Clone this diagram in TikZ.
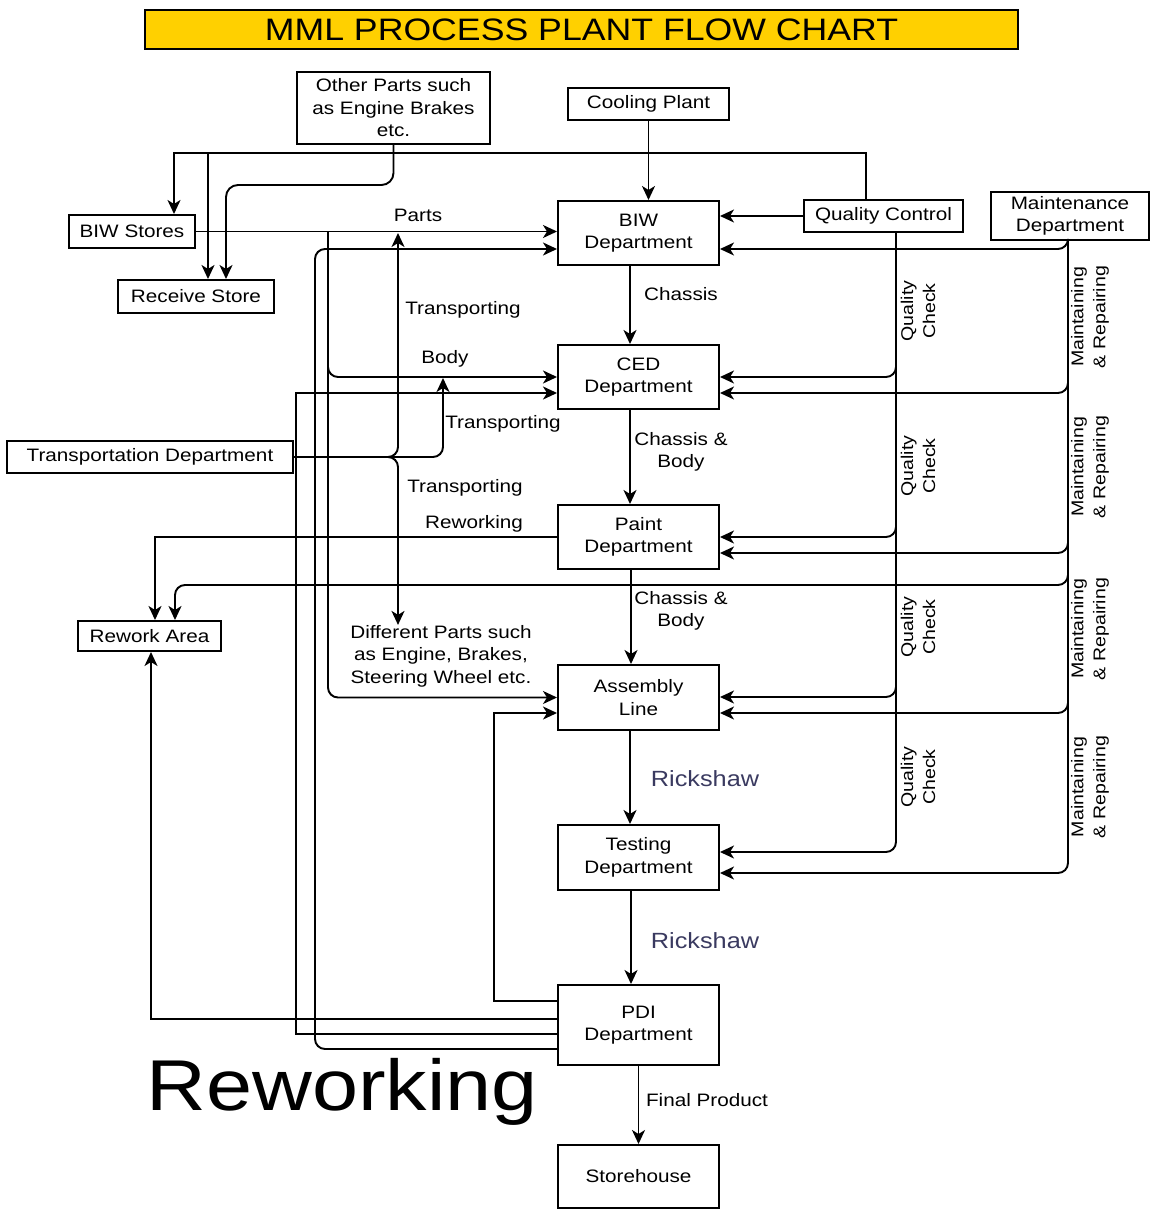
\documentclass[tikz,border=0pt]{standalone}
\usepackage{fontspec}
\setmainfont{Liberation Sans}[FakeStretch=1.15]
\usetikzlibrary{arrows.meta}
\definecolor{titlegold}{RGB}{255,208,0}
\definecolor{rickshawblue}{RGB}{58,58,96}

\begin{document}
\begin{tikzpicture}[x=1pt, y=-1pt,
    box/.style={draw, line width=2pt, minimum width=161pt, minimum height=64pt, inner sep=2pt, align=center, font=\fontsize{18}{22.5}\selectfont},
    flow/.style={line width=1.9pt, -{Stealth[length=14pt, width=13pt, inset=4pt]}},
    lbl/.style={font=\fontsize{18}{22.5}\selectfont, align=center, inner sep=0pt},
    vlbl/.style={lbl, font=\fontsize{17}{22}\selectfont, rotate=90},
    ride/.style={font=\fontsize{22}{26}\selectfont, text=rickshawblue, inner sep=0pt}]

    \useasboundingbox (0,0) rectangle (1150,1209);

    % title
    \node[draw, line width=1.5pt, fill=titlegold, minimum width=873pt, minimum height=39pt, font=\fontsize{31}{34}\selectfont] (title) at (581.5,29.5) {MML PROCESS PLANT FLOW CHART};

    % boxes
    \node[box, minimum width=193pt, minimum height=72pt] (other) at (393.5,108) {Other Parts such\\as Engine Brakes\\etc.};
    \node[box, minimum height=32pt] (cooling) at (648.5,104) {Cooling Plant};
    \node[box, minimum width=126pt, minimum height=33pt] (biwstores) at (132,231.5) {BIW Stores};
    \node[box, minimum width=156pt, minimum height=33pt] (receive) at (196,296.5) {Receive Store};
    \node[box] (biw) at (638.5,233) {BIW\\Department};
    \node[box, minimum width=159pt, minimum height=32pt] (qc) at (883.5,216) {Quality Control};
    \node[box, minimum width=158pt, minimum height=48pt] (maint) at (1070,216) {Maintenance\\Department};
    \node[box] (ced) at (638.5,377) {CED\\Department};
    \node[box, minimum width=286pt, minimum height=32pt] (transport) at (150,457) {Transportation Department};
    \node[box] (paint) at (638.5,537) {Paint\\Department};
    \node[box, minimum width=143pt, minimum height=30pt] (rework) at (149.5,636) {Rework Area};
    \node[lbl] (parts) at (441,656) {Different Parts such\\as Engine, Brakes,\\Steering Wheel etc.};
    \node[box, minimum height=65pt] (assembly) at (638.5,697.5) {Assembly\\Line};
    \node[box, minimum height=65pt] (testing) at (638.5,857.5) {Testing\\Department};
    \node[box, minimum height=80pt] (pdi) at (638.5,1025) {PDI\\Department};
    \node[box, minimum height=63pt] (store) at (638.5,1176.5) {Storehouse};
    \node[font=\fontsize{72}{80}\selectfont, inner sep=0pt, anchor=base] (bigrework) at (342,1110) {Reworking};

    % main line
    \draw[flow] (cooling.south) -- (cooling.south |- biw.north);
    \draw[flow] ([xshift=-8.5pt]biw.south) -- ([xshift=-8.5pt]ced.north);
    \draw[flow] ([xshift=-8.5pt]ced.south) -- ([xshift=-8.5pt]paint.north);
    \draw[flow] ([xshift=-7.5pt]paint.south) -- ([xshift=-7.5pt]assembly.north);
    \draw[flow] ([xshift=-8.5pt]assembly.south) -- ([xshift=-8.5pt]testing.north);
    \draw[flow] ([xshift=-7.5pt]testing.south) -- ([xshift=-7.5pt]pdi.north);
    \draw[flow] (pdi.south) -- (store.north);

    \node[lbl] (chassis) at (681,294) {Chassis};
    \node[lbl] (cbody1) at (681,452) {Chassis \&\\Body};
    \node[lbl] (cbody2) at (681,611) {Chassis \&\\Body};
    \node[ride] (ride1) at (705,779) {Rickshaw};
    \node[ride] (ride2) at (705,941) {Rickshaw};
    \node[lbl] (final) at (707,1100) {Final Product};

    % stores
    \draw[flow] (qc.north -| 866,0) |- (174,153) -- (biwstores.north -| 174,0);
    \draw[flow] (208,153) -- (receive.north -| 208,0);
    \draw[flow, rounded corners=12pt] (other.south) |- (226,185) -- (receive.north -| 226,0);
    \draw[flow] (biwstores.east) -- (biw.west |- biwstores.east);
    \draw[flow, rounded corners=10pt] (biwstores.east -| 328,0) |- (ced.west);
    \draw[flow, rounded corners=10pt] (biwstores.east -| 328,0) |- (assembly.west);
    \node[lbl] (partslbl) at (418,215) {Parts};
    \node[lbl] (bodylbl) at (445,359) {Body};

    % transport
    \draw[flow, rounded corners=10pt] (transport.east) -| (398,233);
    \draw[flow, rounded corners=10pt] (transport.east) -| (443,378);
    \draw[flow, rounded corners=10pt] (transport.east) -| (parts.north -| 398,613);
    \node[lbl] (trans1) at (463,310) {Transporting};
    \node[lbl] (trans2) at (503,424) {Transporting};
    \node[lbl] (trans3) at (465,488) {Transporting};

    % rework
    \draw[flow] (paint.west) -| (rework.north -| 155,0);
    \node[lbl] (reworklbl) at (474,524) {Reworking};

    % back from PDI
    \draw[flow] (pdi.west |- 0,1001) -| (494,713) -- (assembly.west |- 0,713);
    \draw[flow] (pdi.west |- 0,1019) -| (rework.south -| 151,0);
    \draw[flow] (pdi.west |- 0,1034) -| (296,393) -- (ced.west |- 0,393);
    \draw[flow, rounded corners=10pt] (pdi.west |- 0,1049) -| (315,249) -- (biw.west |- 0,249);

    % quality control
    \draw[flow] (qc.west) -- (biw.east |- qc.west);
    \foreach \dept/\yy in {ced/377, paint/537, assembly/697, testing/852}
        \draw[flow, rounded corners=10pt] (qc.south -| 896,0) |- (\dept.east |- 0,\yy);
    \foreach \yy in {311,466,627,777}
        \node[vlbl] (qchk\yy) at (918,\yy) {Quality\\Check};

    % maintenance
    \foreach \dept/\yy in {biw/249, ced/393, paint/553, assembly/713, testing/873}
        \draw[flow, rounded corners=10pt] (maint.south -| 1068,0) |- (\dept.east |- 0,\yy);
    \draw[flow, rounded corners=10pt] (maint.south -| 1068,0) |- (175,585) -- (rework.north -| 175,0);
    \foreach \yy in {317,467,629,787}
        \node[vlbl] (mrep\yy) at (1090,\yy) {Maintaining\\\& Repairing};
\end{tikzpicture}
\end{document}
